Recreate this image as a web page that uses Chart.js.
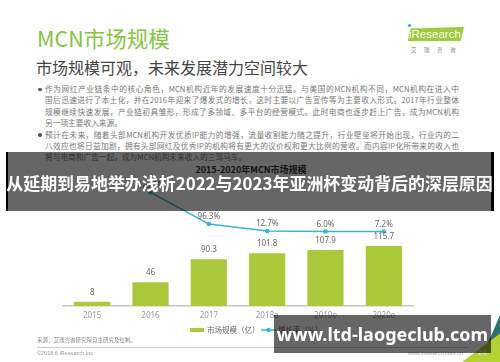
<!DOCTYPE html>
<html><head><meta charset="utf-8">
<script src="https://cdn.jsdelivr.net/npm/chart.js@4.4.1/dist/chart.umd.min.js"></script>
<style>
html,body{margin:0;padding:0;background:#fff;}
body{width:500px;height:362px;position:relative;overflow:hidden;font-family:"Noto Sans CJK SC","Noto Sans",sans-serif;}
.abs{position:absolute;white-space:nowrap;}
#title{left:37px;top:24px;font-size:21.5px;color:#86c441;line-height:28px;}
#sub{left:36px;top:56px;font-size:16px;color:#444;line-height:22px;}
.bl{position:absolute;left:45px;width:414px;font-size:7.7px;color:#777;line-height:10px;text-align:justify;text-align-last:justify;white-space:nowrap;}
.bl.last{text-align-last:left;}
.dot{position:absolute;left:38px;width:3.5px;height:3.5px;border-radius:50%;background:#555;}
#ctitle{left:0;width:502px;text-align:center;top:164px;font-size:9px;font-weight:bold;color:#333;line-height:12px;}
#chartWrap{position:absolute;left:0;top:0;width:500px;height:362px;}
#banner1{position:absolute;left:6px;top:152px;width:488px;height:59px;background:rgba(0,0,0,0.6);z-index:5;border-left:2px solid #000;border-right:3px solid #000;box-sizing:border-box;}
#banner1 span{position:absolute;left:-10px;right:-10px;top:19px;text-align:center;color:#fff;font-weight:bold;font-size:16.95px;line-height:24px;white-space:nowrap;}
#banner2{position:absolute;left:274px;top:315px;width:217px;height:38px;background:rgba(0,0,0,0.6);z-index:5;}
#banner2 span{position:absolute;left:0;right:0;top:6px;text-align:center;color:#fff;font-weight:bold;font-size:18px;line-height:26px;font-family:"Noto Sans",sans-serif;white-space:nowrap;}
#foot1{left:37px;top:336px;font-size:5.5px;color:#888;}
#foot2{left:37px;top:350px;font-size:5.5px;color:#999;font-family:"Liberation Sans",sans-serif;}
#fline{position:absolute;left:37px;top:347px;width:432px;height:1px;background:#ccc;}
#url{left:408px;top:350px;font-size:5.5px;color:#aaa;font-family:"Liberation Sans",sans-serif;}
#pnum{left:478px;top:348px;font-size:8px;color:#eee;z-index:3;font-family:"Liberation Sans",sans-serif;}
#tri1{position:absolute;left:460px;top:310px;width:40px;height:52px;background:#2e6f6a;clip-path:polygon(100% 10%,100% 62%,55% 90%);z-index:1;}
#tri2{position:absolute;left:460px;top:310px;width:40px;height:52px;background:#b3d334;clip-path:polygon(100% 45%,100% 100%,5% 100%);z-index:2;}
#logo{position:absolute;left:406px;top:27px;width:58px;height:14px;z-index:1;}
#logo .bg{position:absolute;left:2px;top:0;width:56px;height:14px;background:#9ccb3b;clip-path:polygon(4% 10%,100% 0,94% 100%,0 100%);}
#logo span{position:absolute;left:3px;top:-1px;font-size:11.5px;color:#fff;font-family:"Liberation Sans",sans-serif;line-height:16px;}
#logo i{position:absolute;left:2px;top:-3px;width:3px;height:3px;border-radius:50%;background:#2aa2d6;}
#logo2{left:411px;top:46px;font-size:5.5px;color:#888;letter-spacing:7.5px;}
</style></head>
<body>
<div id="title" class="abs">MCN市场规模</div>
<div id="sub" class="abs">市场规模可观，未来发展潜力空间较大</div>
<div id="logo"><div class="bg"></div><i></i><span>iResearch</span></div>
<div id="logo2" class="abs">艾瑞咨询</div>

<div class="dot" style="top:87.5px"></div>
<div class="bl" style="top:84px">作为网红产业链条中的核心角色，MCN机构近年的发展速度十分迅猛。与美国的MCN机构不同，MCN机构在进入中</div>
<div class="bl" style="top:95px">国后迅速进行了本土化，并在2016年迎来了爆发式的增长，这时主要以广告宣传等为主要收入形式。2017年行业整体</div>
<div class="bl" style="top:106.5px">规模继续快速发展，产业链初具雏形，形成了多领域、多平台的经营模式。此时电商也逐步赶上广告，成为MCN机构</div>
<div class="bl last" style="top:118px">另一项主要收入来源。</div>
<div class="dot" style="top:133px"></div>
<div class="bl" style="top:130px">预计在未来，随着头部MCN机构开发优质IP能力的增强，流量收割能力随之提升，行业壁垒将开始出现，行业内的二</div>
<div class="bl" style="top:141px">八效应也将日益加剧，拥有头部网红及优秀IP的机构将有更大的议价权和更大比例的营收。而内容IP化所带来的收入也</div>
<div class="bl last" style="top:152px">将与电商和广告一起，成为MCN机构未来收入的三驾马车。</div>

<div id="ctitle" class="abs">2015-2020年MCN市场规模</div>

<div id="chartWrap"><canvas id="c" width="500" height="362"></canvas></div>

<div id="foot1" class="abs">来源：艾瑞咨询研究院自主研究及绘制。</div>
<div id="fline"></div>
<div id="foot2" class="abs">©2018.6 iResearch Inc</div>
<div id="url" class="abs">www.iresearch.com.cn</div>
<div id="tri1"></div><div id="tri2"></div>
<div id="pnum" class="abs">24</div>

<div id="banner1"><span>从延期到易地举办浅析2022与2023年亚洲杯变动背后的深层原因</span></div>
<div id="banner2"><span>www.ltd-laogeclub.com</span></div>

<script>
const categories = ['2015', '2016', '2017', '2018e', '2019e', '2020e'];
const marketSize = [8, 46, 90.3, 101.8, 107.9, 115.7];
const growthRate = [null, 475.0, 96.3, 12.7, 6.0, 7.2];
const seriesNames = ['市场规模（亿）', '增长率（%）'];

const barColor = '#a9c93a';
const lineColor = '#36b3d8';

const labelPlugin = {
  id: 'valueLabels',
  afterDatasetsDraw(chart) {
    const ctx = chart.ctx;
    ctx.save();
    ctx.font = '8px "Noto Sans", "Liberation Sans", sans-serif';
    ctx.fillStyle = '#666';
    ctx.textAlign = 'center';
    ctx.textBaseline = 'middle';
    chart.data.datasets.forEach((ds, di) => {
      const meta = chart.getDatasetMeta(di);
      meta.data.forEach((el, i) => {
        const v = ds.data[i];
        if (v === null || v === undefined) return;
        if (ds.type === 'bar') {
          ctx.fillText(String(v), el.x, el.y - 9);
        } else {
          ctx.fillText(v.toFixed(1) + '%', el.x, el.y - 7);
        }
      });
    });
    // legend
    const ly = 330;
    ctx.fillStyle = barColor;
    ctx.fillRect(190, ly - 2, 14, 4);
    ctx.fillStyle = '#666';
    ctx.textAlign = 'left';
    ctx.font = '7.5px "Noto Sans CJK SC", sans-serif';
    ctx.fillText(seriesNames[0], 207, ly);
    ctx.strokeStyle = lineColor;
    ctx.lineWidth = 1.5;
    ctx.beginPath(); ctx.moveTo(261, ly); ctx.lineTo(276, ly); ctx.stroke();
    ctx.fillStyle = lineColor;
    ctx.beginPath(); ctx.arc(268.5, ly, 2.2, 0, Math.PI * 2); ctx.fill();
    ctx.fillStyle = '#666';
    ctx.fillText(seriesNames[1], 278, ly);
    ctx.restore();
  }
};

new Chart(document.getElementById('c'), {
  data: {
    labels: categories,
    datasets: [
      {
        type: 'line', label: seriesNames[1], data: growthRate, yAxisID: 'y1',
        borderColor: lineColor, backgroundColor: lineColor, borderWidth: 1.5,
        pointRadius: 2.3, pointBackgroundColor: lineColor, pointBorderWidth: 0,
        tension: 0, order: 0
      },
      {
        type: 'bar', label: seriesNames[0], data: marketSize, yAxisID: 'y',
        backgroundColor: barColor, barPercentage: 0.62, categoryPercentage: 1, order: 1
      }
    ]
  },
  options: {
    responsive: false,
    animation: false,
    layout: { padding: { left: 63, right: 87, top: 160, bottom: 36 } },
    plugins: { legend: { display: false }, title: { display: false }, tooltip: { enabled: false } },
    scales: {
      x: {
        offset: true,
        grid: { display: false, drawTicks: false },
        border: { display: true, color: '#c8c8c8', width: 1.5 },
        ticks: { color: '#999', font: { size: 8, family: '"Noto Sans", sans-serif' }, padding: 5, maxRotation: 0 },
        afterFit(scale) { scale.height = 20; }
      },
      y: { display: false, min: 0, max: 281.3 },
      y1: { display: false, min: -883.4, max: 861 }
    }
  },
  plugins: [labelPlugin]
});
</script>
</body></html>
